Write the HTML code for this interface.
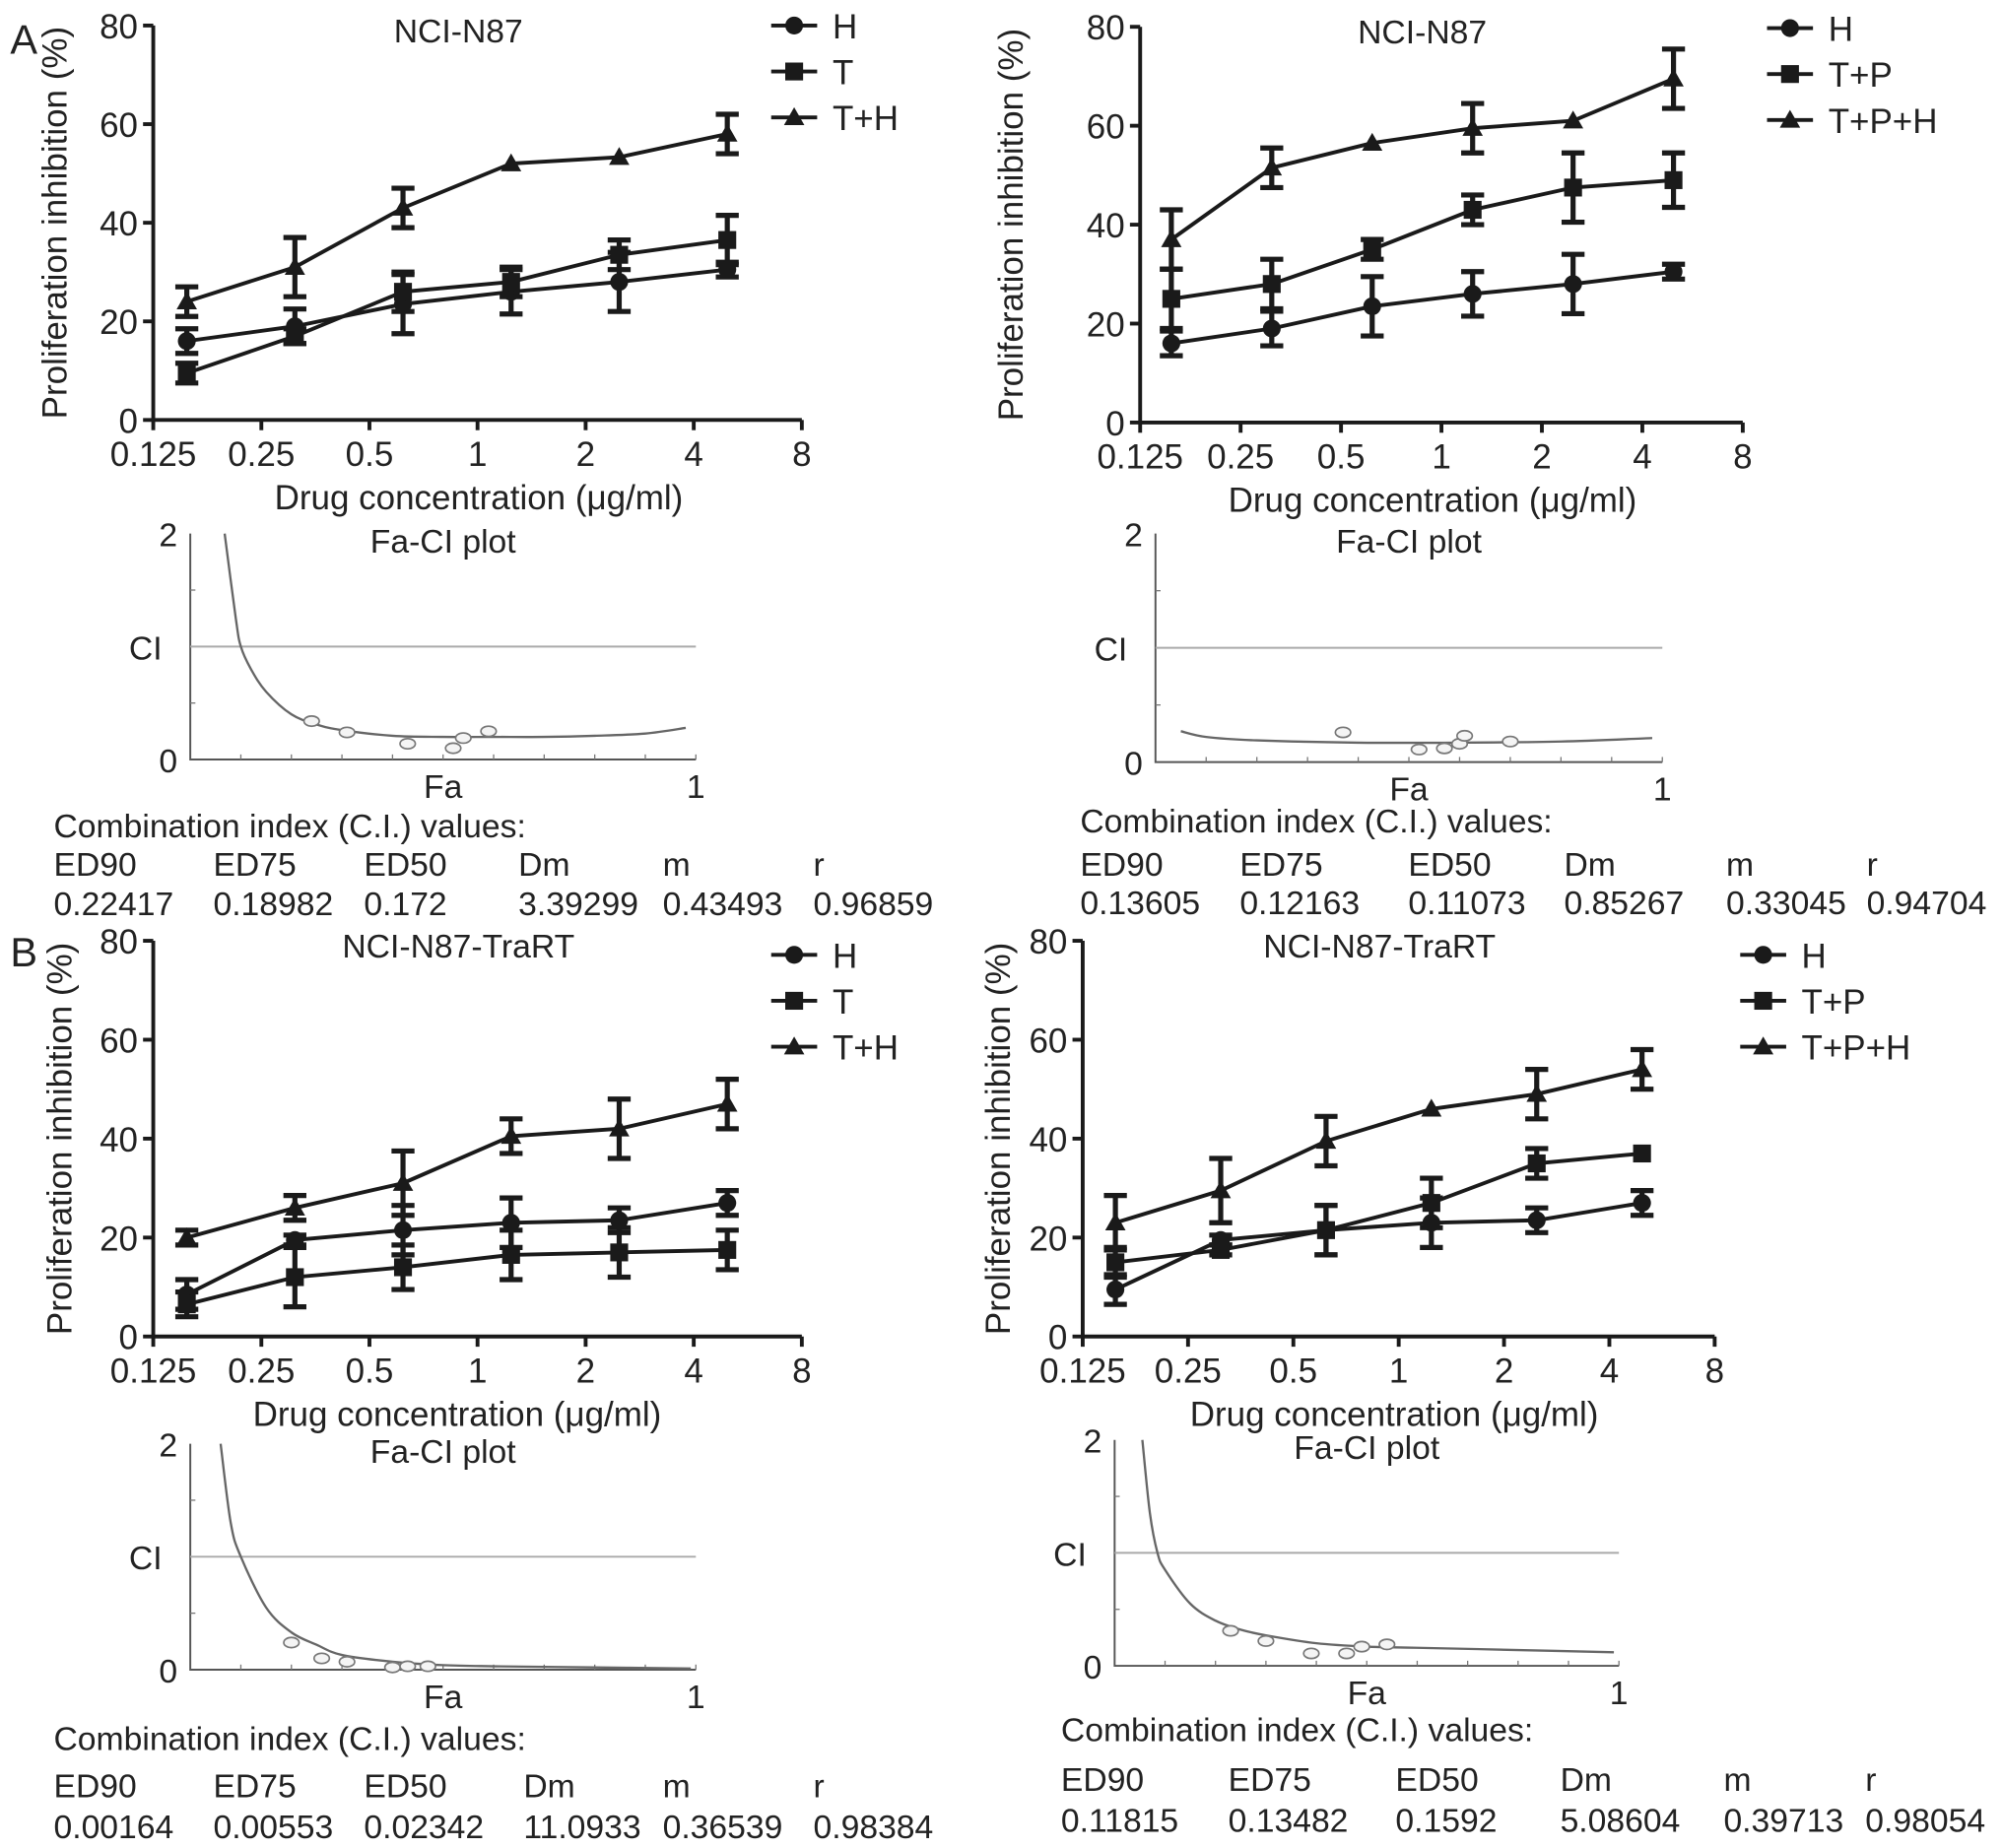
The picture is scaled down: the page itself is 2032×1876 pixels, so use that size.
<!DOCTYPE html>
<html><head><meta charset="utf-8"><style>
html,body{margin:0;padding:0;background:#fff}
svg{display:block}
text{font-family:"Liberation Sans",sans-serif;fill:#222}
</style></head><body>
<svg id="fig" width="2032" height="1876" viewBox="0 0 1568 1447.7" xmlns="http://www.w3.org/2000/svg"></svg>
<script>
// ---------- DATA ----------
const xTickLabels = ["0.125","0.25","0.5","1","2","4","8"];
const yTickLabels = ["0","20","40","60","80"];
const concentrations = [0.155,0.31,0.62,1.24,2.48,4.96];

// Panel A left (NCI-N87)
const aL_H = [16,19,23.5,26,28,30.5];      const aL_Herr = [2.5,3.5,6,4.5,6,1.5];
const aL_T = [9.5,17,26,28,33.5,36.5];     const aL_Terr = [2,1.5,4,3,3,5];
const aL_TH = [24,31,43,52,53.3,58];       const aL_THerr = [3,6,4,0,0,4];
// Panel A right
const aR_H = [16,19,23.5,26,28,30.5];      const aR_Herr = [2.5,3.5,6,4.5,6,1.5];
const aR_TP = [25,28,35,43,47.5,49];       const aR_TPerr = [6,5,2,3,7,5.5];
const aR_TPH = [37,51.5,56.5,59.5,61,69.5];const aR_TPHerr = [6,4,0,5,0,6];
// Panel B left (NCI-N87-TraRT)
const bL_H = [8.5,19.5,21.5,23,23.5,27];   const bL_Herr = [3,1,5,5,2.5,2.5];
const bL_T = [6.5,12,14,16.5,17,17.5];     const bL_Terr = [2.5,6,4.5,5,5,4];
const bL_TH = [20,26,31,40.5,42,47];       const bL_THerr = [1.5,2.5,6.5,3.5,6,5];
// Panel B right
const bR_H = [9.5,19.5,21.5,23,23.5,27];   const bR_Herr = [3,1,5,5,2.5,2.5];
const bR_TP = [15,17.5,21.5,27,35,37];     const bR_TPerr = [3,1,5,5,3,0];
const bR_TPH = [23,29.5,39.5,46,49,54];    const bR_TPHerr = [5.5,6.5,5,0,5,4];

// Fa-CI curves
const aL_curveFa = [0.068,0.09,0.1,0.12,0.15,0.2,0.25,0.3,0.4,0.5,0.6,0.7,0.8,0.9,0.98];
const aL_curveCi = [2,1.25,1.0,0.8,0.6,0.4,0.31,0.26,0.21,0.2,0.2,0.2,0.21,0.23,0.28];
const aL_ptFa = [0.24,0.31,0.43,0.52,0.54,0.59];
const aL_ptCi = [0.34,0.24,0.14,0.10,0.19,0.25];
const aR_curveFa = [0.05,0.1,0.2,0.4,0.6,0.8,0.98];
const aR_curveCi = [0.27,0.22,0.19,0.17,0.17,0.18,0.21];
const aR_ptFa = [0.37,0.52,0.57,0.60,0.61,0.70];
const aR_ptCi = [0.26,0.11,0.12,0.16,0.23,0.18];
const bL_curveFa = [0.06,0.08,0.1,0.15,0.2,0.25,0.3,0.4,0.5,0.6,0.8,0.99];
const bL_curveCi = [2,1.3,1.0,0.55,0.33,0.22,0.13,0.07,0.04,0.03,0.02,0.01];
const bL_ptFa = [0.20,0.26,0.31,0.40,0.43,0.47];
const bL_ptCi = [0.24,0.10,0.07,0.02,0.03,0.03];
const bR_curveFa = [0.055,0.07,0.085,0.1,0.15,0.2,0.25,0.3,0.4,0.5,0.6,0.8,0.99];
const bR_curveCi = [2,1.35,1.0,0.85,0.55,0.4,0.32,0.27,0.2,0.17,0.16,0.14,0.12];
const bR_ptFa = [0.23,0.30,0.39,0.46,0.49,0.54];
const bR_ptCi = [0.31,0.22,0.11,0.11,0.17,0.19];

// CI table values
const tableHeaders = ["ED90","ED75","ED50","Dm","m","r"];
const aL_table = ["0.22417","0.18982","0.172","3.39299","0.43493","0.96859"];
const aR_table = ["0.13605","0.12163","0.11073","0.85267","0.33045","0.94704"];
const bL_table = ["0.00164","0.00553","0.02342","11.0933","0.36539","0.98384"];
const bR_table = ["0.11815","0.13482","0.1592","5.08604","0.39713","0.98054"];

// ---------- DRAWING ----------
const NS="http://www.w3.org/2000/svg";
const svg=document.getElementById('fig');
function mk(tag,attrs,parent){const e=document.createElementNS(NS,tag);for(const k in attrs)e.setAttribute(k,attrs[k]);(parent||svg).appendChild(e);return e;}
function txt(s,x,y,size,anchor,parent){const t=mk('text',{x:x,y:y,'font-size':size,'text-anchor':anchor||'start'},parent);t.textContent=s;return t;}
function smooth(p){
  let d=`M${p[0][0]},${p[0][1]}`;
  for(let i=0;i<p.length-1;i++){
    const p0=p[Math.max(0,i-1)],p1=p[i],p2=p[i+1],p3=p[Math.min(p.length-1,i+2)];
    const c1=[p1[0]+(p2[0]-p0[0])/6,p1[1]+(p2[1]-p0[1])/6];
    const c2=[p2[0]-(p3[0]-p1[0])/6,p2[1]-(p3[1]-p1[1])/6];
    d+=` C${c1[0]},${c1[1]} ${c2[0]},${c2[1]} ${p2[0]},${p2[1]}`;
  }
  return d;
}

function marker(g,type,x,y){
  let m;
  if(type==='circle'){m=mk('circle',{cx:x,cy:y,r:7,fill:'#1a1a1a'},g);}
  else if(type==='square'){m=mk('rect',{x:x-7,y:y-7,width:14,height:14,fill:'#1a1a1a'},g);}
  else {m=mk('polygon',{points:`${x},${y-8} ${x-8},${y+6} ${x+8},${y+6}`,fill:'#1a1a1a'},g);}
  return m;
}

function lineChart(o){
  const g=mk('g',{});
  
  
  const sx=v=>o.x0+(Math.log2(v)+3)/6*(o.x1-o.x0);
  const sy=v=>o.y0-v/80*(o.y0-o.y1);
  const ax=mk('path',{d:`M${o.x0},${o.y1} L${o.x0},${o.y0} L${o.x1},${o.y0}`,stroke:'#1a1a1a','stroke-width':3,fill:'none'},g);
  
  
  yTickLabels.forEach(l=>{const y=sy(+l);mk('line',{x1:o.x0-8,x2:o.x0,y1:y,y2:y,stroke:'#1a1a1a','stroke-width':3},g);
    const t=txt(l,o.x0-12,y+10,27,'end',g);});
  xTickLabels.forEach(l=>{const x=sx(+l);mk('line',{x1:x,x2:x,y1:o.y0,y2:o.y0+8,stroke:'#1a1a1a','stroke-width':3},g);
    const t=txt(l,x,o.y0+36,27,'middle',g);});
  const tt=txt(o.title,(o.x0+o.x1)/2-15,o.y1+13,26,'middle',g);
  
  const xt=txt('Drug concentration (μg/ml)',o.xtX,o.y0+70,27,'middle',g);
  
  const yc=(o.y0+o.y1)/2;
  const yt=txt('Proliferation inhibition (%)',0,0,27,'middle',g);
  yt.setAttribute('transform',`translate(${o.ytX},${yc}) rotate(-90)`);
  
  o.series.forEach((s,si)=>{
    const sg=mk('g',{},g);
    
    
    const pts=s.vals.map((v,i)=>[sx(concentrations[i]),sy(v)]);
    const ln=mk('polyline',{points:pts.map(p=>p.join(',')).join(' '),fill:'none',stroke:'#1a1a1a','stroke-width':3},sg);
    
    s.vals.forEach((v,i)=>{
      const x=sx(concentrations[i]),e=s.err[i];
      if(e>0){const yt=sy(v+e),yb=sy(v-e);
        const eb=mk('path',{d:`M${x},${yt} L${x},${yb} M${x-9},${yt} L${x+9},${yt} M${x-9},${yb} L${x+9},${yb}`,stroke:'#1a1a1a','stroke-width':4,fill:'none'},sg);
        }
      const m=marker(sg,s.type,x,sy(v));
      
    });
    const ly=o.legY+si*36;
    const lg=mk('g',{},g);
    
    mk('line',{x1:o.legX,x2:o.legX+36,y1:ly,y2:ly,stroke:'#1a1a1a','stroke-width':3},lg);
    marker(lg,s.type,o.legX+18,ly);
    txt(s.label,o.legX+48,ly+10,27,'start',lg);
  });
}

function faChart(o){
  const g=mk('g',{});
  
  
  const sx=v=>o.x0+v*(o.x1-o.x0);
  const sy=v=>o.y0-v/2*(o.y0-o.y1);
  const ax=mk('path',{d:`M${o.x0},${o.y1} L${o.x0},${o.y0} L${o.x1},${o.y0}`,stroke:'#555','stroke-width':1.5,fill:'none'},g);
  
  for(let i=1;i<=10;i++){const x=sx(i/10);mk('line',{x1:x,x2:x,y1:o.y0,y2:o.y0-4,stroke:'#777','stroke-width':1},g);}
  for(let i=1;i<4;i++){const y=sy(i/2);mk('line',{x1:o.x0,x2:o.x0+4,y1:y,y2:y,stroke:'#777','stroke-width':1},g);}
  const ref=mk('line',{x1:o.x0,x2:o.x1,y1:sy(1),y2:sy(1),stroke:'#aaa','stroke-width':1.5},g);
  
  txt('2',o.x0-10,o.y1+10,26,'end',g);
  txt('0',o.x0-10,o.y0+10,26,'end',g);
  const cl=txt('CI',o.x0-22,sy(1)+10,26,'end',g);
  const fl=txt('Fa',(o.x0+o.x1)/2,o.y0+30,26,'middle',g);
  txt('1',o.x1,o.y0+30,26,'middle',g);
  const t=txt('Fa-CI plot',(o.x0+o.x1)/2,o.y1+15,26,'middle',g);
  const c=mk('path',{d:smooth(o.cf.map((f,i)=>[sx(f),sy(o.cc[i])])),fill:'none',stroke:'#666','stroke-width':1.8},g);
  
  o.pf.forEach((f,i)=>{const p=mk('ellipse',{cx:sx(f),cy:sy(o.pc[i]),rx:6,ry:4,fill:'#f4f4f4',stroke:'#777','stroke-width':1.3},g);
    });
  const tg=mk('g',{},g);
  
  txt('Combination index (C.I.) values:',o.tx[0],o.tY0,26,'start',tg);
  tableHeaders.forEach((h,i)=>txt(h,o.tx[i],o.tY1,26,'start',tg));
  o.tv.forEach((v,i)=>txt(v,o.tx[i],o.tY2,26,'start',tg));
}

const A=txt('A',8,42,32,'start');
const B=txt('B',8,757,32,'start');

lineChart({name:'chart-a-left',x0:120,x1:628,y0:329,y1:20,title:'NCI-N87',xtX:375,ytX:52,legX:604,legY:20,
  series:[{label:'H',type:'circle',vals:aL_H,err:aL_Herr},{label:'T',type:'square',vals:aL_T,err:aL_Terr},{label:'T+H',type:'tri',vals:aL_TH,err:aL_THerr}]});
lineChart({name:'chart-a-right',x0:893,x1:1365,y0:331,y1:21,title:'NCI-N87',xtX:1122,ytX:801,legX:1384,legY:22,
  series:[{label:'H',type:'circle',vals:aR_H,err:aR_Herr},{label:'T+P',type:'square',vals:aR_TP,err:aR_TPerr},{label:'T+P+H',type:'tri',vals:aR_TPH,err:aR_TPHerr}]});
lineChart({name:'chart-b-left',x0:120,x1:628,y0:1047,y1:737,title:'NCI-N87-TraRT',xtX:358,ytX:56,legX:604,legY:748,
  series:[{label:'H',type:'circle',vals:bL_H,err:bL_Herr},{label:'T',type:'square',vals:bL_T,err:bL_Terr},{label:'T+H',type:'tri',vals:bL_TH,err:bL_THerr}]});
lineChart({name:'chart-b-right',x0:848,x1:1343,y0:1047,y1:737,title:'NCI-N87-TraRT',xtX:1092,ytX:791,legX:1363,legY:748,
  series:[{label:'H',type:'circle',vals:bR_H,err:bR_Herr},{label:'T+P',type:'square',vals:bR_TP,err:bR_TPerr},{label:'T+P+H',type:'tri',vals:bR_TPH,err:bR_TPHerr}]});

faChart({name:'fa-ci-a-left',x0:149,x1:545,y0:595,y1:418,cf:aL_curveFa,cc:aL_curveCi,pf:aL_ptFa,pc:aL_ptCi,
  tx:[42,167,285,406,519,637],tY0:656,tY1:686,tY2:717,tv:aL_table});
faChart({name:'fa-ci-a-right',x0:905,x1:1302,y0:597,y1:418,cf:aR_curveFa,cc:aR_curveCi,pf:aR_ptFa,pc:aR_ptCi,
  tx:[846,971,1103,1225,1352,1462],tY0:652,tY1:686,tY2:716,tv:aR_table});
faChart({name:'fa-ci-b-left',x0:149,x1:545,y0:1308,y1:1131,cf:bL_curveFa,cc:bL_curveCi,pf:bL_ptFa,pc:bL_ptCi,
  tx:[42,167,285,410,519,637],tY0:1371,tY1:1408,tY2:1440,tv:bL_table});
faChart({name:'fa-ci-b-right',x0:873,x1:1268,y0:1305,y1:1128,cf:bR_curveFa,cc:bR_curveCi,pf:bR_ptFa,pc:bR_ptCi,
  tx:[831,962,1093,1222,1350,1461],tY0:1364,tY1:1403,tY2:1435,tv:bR_table});
</script>
</body></html>
